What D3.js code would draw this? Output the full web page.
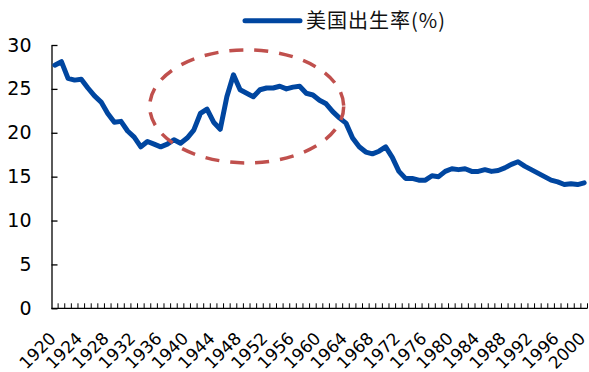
<!DOCTYPE html>
<html>
<head>
<meta charset="utf-8">
<script src="https://cdn.jsdelivr.net/npm/d3@7"></script>
<style>
  html, body { margin: 0; padding: 0; background: #fff; }
  svg { display: block; }
</style>
</head>
<body>
<div id="chart"></div>
<script>
// US crude birth rate, 1920-2000
const years = d3.range(1920, 2001);
const birthRate = [
  27.7, 28.1, 26.2, 26.0, 26.1, 25.1, 24.2, 23.5, 22.2, 21.2,
  21.3, 20.2, 19.5, 18.4, 19.0, 18.7, 18.4, 18.7, 19.2, 18.8,
  19.4, 20.3, 22.2, 22.7, 21.2, 20.4, 24.1, 26.6, 24.9, 24.5,
  24.1, 24.9, 25.1, 25.1, 25.3, 25.0, 25.2, 25.3, 24.5, 24.3,
  23.7, 23.3, 22.4, 21.7, 21.1, 19.4, 18.4, 17.8, 17.6, 17.9,
  18.4, 17.2, 15.6, 14.8, 14.8, 14.6, 14.6, 15.1, 15.0, 15.6,
  15.9, 15.8, 15.9, 15.6, 15.6, 15.8, 15.6, 15.7, 16.0, 16.4,
  16.7, 16.2, 15.8, 15.4, 15.0, 14.6, 14.4, 14.1, 14.2, 14.1,
  14.3
];
const yTicks = [0, 5, 10, 15, 20, 25, 30];
const xLabelYears = d3.range(1920, 2001, 4);
const seriesName = "美国出生率(%)";

const W = 589, H = 372;
const plotLeft = 51.5, plotRight = 587.5, plotTop = 45, plotBottom = 308.3;
const lineColor = "#0046a0";

const svg = d3.select("#chart").append("svg")
  .attr("width", W).attr("height", H);

const x = d3.scaleBand().domain(years).range([plotLeft, plotRight]).padding(0);
const y = d3.scaleLinear().domain([0, 30]).range([plotBottom, plotTop]);
const cx = d => x(d) + x.bandwidth() / 2;

// y axis: ticks pointing into the plot
const yAxis = svg.append("g")
  .attr("transform", `translate(${plotLeft},0)`)
  .call(d3.axisLeft(y).tickValues(yTicks).tickSizeInner(-6).tickSizeOuter(0).tickPadding(20));
yAxis.select(".domain").attr("stroke", "#000").attr("stroke-width", 1.3);
yAxis.selectAll(".tick line").attr("stroke", "#000").attr("stroke-width", 1.3);
yAxis.selectAll(".tick text")
  .attr("font-family", "'DejaVu Sans', Verdana, sans-serif")
  .attr("font-size", 19).attr("fill", "#000");

// x axis baseline and category boundary ticks
svg.append("line")
  .attr("x1", plotLeft).attr("x2", plotRight)
  .attr("y1", plotBottom).attr("y2", plotBottom)
  .attr("stroke", "#000").attr("stroke-width", 1.3);
svg.append("g").selectAll("line")
  .data(years)
  .join("line")
  .attr("x1", d => x(d) + x.bandwidth())
  .attr("x2", d => x(d) + x.bandwidth())
  .attr("y1", plotBottom).attr("y2", plotBottom - 5)
  .attr("stroke", "#000").attr("stroke-width", 1);

// rotated year labels
svg.append("g").selectAll("text")
  .data(xLabelYears)
  .join("text")
  .attr("transform", d => `translate(${cx(d) - 2},${plotBottom + 27}) rotate(-45)`)
  .attr("text-anchor", "end")
  .attr("dy", "0.35em")
  .attr("font-family", "'DejaVu Sans', Verdana, sans-serif")
  .attr("font-size", 17)
  .attr("fill", "#000")
  .text(d => d);

// birth rate line
const line = d3.line()
  .x((d, i) => cx(years[i]))
  .y(d => y(d));
svg.append("path")
  .datum(birthRate)
  .attr("d", line)
  .attr("fill", "none")
  .attr("stroke", lineColor)
  .attr("stroke-width", 5)
  .attr("stroke-linejoin", "round")
  .attr("stroke-linecap", "round");

// dashed highlight around the post-war baby boom
svg.append("ellipse")
  .attr("cx", cx(1949))
  .attr("cy", y(23))
  .attr("rx", 97)
  .attr("ry", 56.5)
  .attr("fill", "none")
  .attr("stroke", "#c0504d")
  .attr("stroke-width", 3.5)
  .attr("stroke-dasharray", "14 11");

// legend
const legend = svg.append("g");
legend.append("line")
  .attr("x1", 245).attr("x2", 300)
  .attr("y1", 20.7).attr("y2", 20.7)
  .attr("stroke", lineColor)
  .attr("stroke-width", 5)
  .attr("stroke-linecap", "round");
legend.append("text")
  .attr("x", 306)
  .attr("y", 28)
  .attr("font-family", "'Noto Sans CJK SC', 'DejaVu Sans', sans-serif")
  .attr("font-size", 20)
  .attr("letter-spacing", 1)
  .attr("fill", "#111")
  .text(seriesName);
</script>
</body>
</html>
